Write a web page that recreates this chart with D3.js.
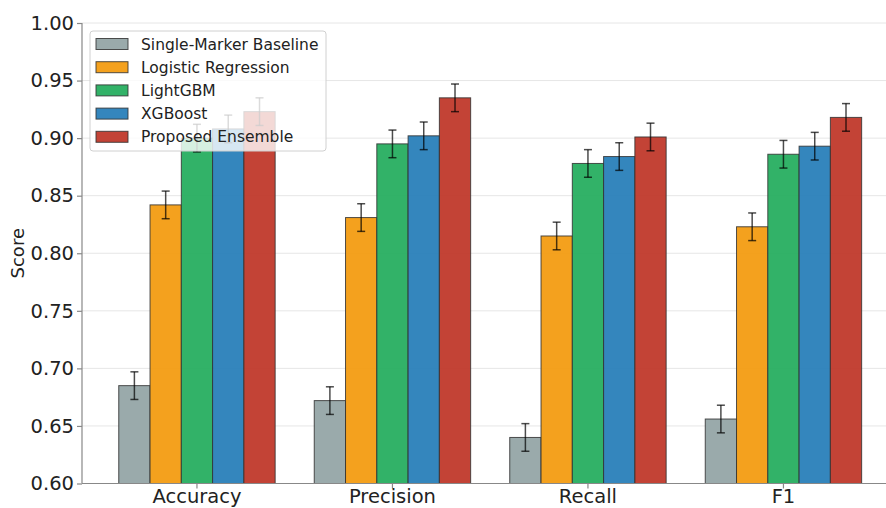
<!DOCTYPE html>
<html>
<head>
<meta charset="utf-8">
<script src="https://cdn.jsdelivr.net/npm/d3@7"></script>
<style>
  html, body { margin: 0; padding: 0; background: #fff; }
  svg { display: block; font-family: "DejaVu Sans", sans-serif; }
</style>
</head>
<body>
<svg id="chart" width="886" height="508"></svg>
<script>
// Metric categories along the x axis
const metrics = ["Accuracy", "Precision", "Recall", "F1"];

// Model names (legend order)
const models = ["Single-Marker Baseline", "Logistic Regression", "LightGBM", "XGBoost", "Proposed Ensemble"];
const modelColors = ["#95a5a6", "#f39c12", "#27ae60", "#2980b9", "#c0392b"];

// Scores per model, in metric order
const baselineScores = [0.685, 0.672, 0.640, 0.656];
const logisticScores = [0.842, 0.831, 0.815, 0.823];
const lightgbmScores = [0.900, 0.895, 0.878, 0.886];
const xgboostScores  = [0.908, 0.902, 0.884, 0.893];
const ensembleScores = [0.923, 0.935, 0.901, 0.918];

// Standard deviation shown as error bars
const baselineErr = [0.012, 0.012, 0.012, 0.012];
const logisticErr = [0.012, 0.012, 0.012, 0.012];
const lightgbmErr = [0.012, 0.012, 0.012, 0.012];
const xgboostErr  = [0.012, 0.012, 0.012, 0.012];
const ensembleErr = [0.012, 0.012, 0.012, 0.012];

const yTicks = [0.60, 0.65, 0.70, 0.75, 0.80, 0.85, 0.90, 0.95, 1.00];

const allScores = [baselineScores, logisticScores, lightgbmScores, xgboostScores, ensembleScores];
const allErr = [baselineErr, logisticErr, lightgbmErr, xgboostErr, ensembleErr];

const rows = [];
metrics.forEach((m, i) => {
  models.forEach((mod, j) => {
    rows.push({ metric: m, model: mod, value: allScores[j][i], err: allErr[j][i], color: modelColors[j] });
  });
});

const svg = d3.select("#chart");
const plotLeft = 82, plotTop = 23, plotBottom = 483.5, plotRight = 898.4;

const x = d3.scaleBand().domain(metrics).range([plotLeft, plotRight])
  .paddingInner(0.2).paddingOuter(0.188);
const xInner = d3.scaleBand().domain(models).range([0, x.bandwidth()]);
const y = d3.scaleLinear().domain([0.60, 1.00]).range([plotBottom, plotTop]);

// Horizontal grid
svg.append("g").selectAll("line").data(yTicks).join("line")
  .attr("x1", plotLeft).attr("x2", 886)
  .attr("y1", d => y(d)).attr("y2", d => y(d))
  .attr("stroke", "#e6e6e6").attr("stroke-width", 1);

// Bars
svg.append("g").selectAll("rect").data(rows).join("rect")
  .attr("x", d => x(d.metric) + xInner(d.model))
  .attr("y", d => y(d.value))
  .attr("width", xInner.bandwidth())
  .attr("height", d => y(0.60) - y(d.value))
  .attr("fill", d => d.color)
  .attr("fill-opacity", 0.95)
  .attr("stroke", "#333")
  .attr("stroke-opacity", 0.85)
  .attr("stroke-width", 1);

// Error bars
const eb = svg.append("g").attr("stroke", "#000").attr("stroke-opacity", 0.7).attr("stroke-width", 1.5);
rows.forEach(d => {
  const cx = x(d.metric) + xInner(d.model) + xInner.bandwidth() / 2;
  const y1 = y(d.value + d.err), y0 = y(d.value - d.err);
  eb.append("line").attr("x1", cx).attr("x2", cx).attr("y1", y1).attr("y2", y0);
  eb.append("line").attr("x1", cx - 4).attr("x2", cx + 4).attr("y1", y1).attr("y2", y1);
  eb.append("line").attr("x1", cx - 4).attr("x2", cx + 4).attr("y1", y0).attr("y2", y0);
});

// Axes
const yAxis = svg.append("g").attr("transform", `translate(${plotLeft},0)`)
  .call(d3.axisLeft(y).tickValues(yTicks).tickFormat(d3.format(".2f")).tickSize(5).tickPadding(3));
const xAxis = svg.append("g").attr("transform", `translate(0,${plotBottom})`)
  .call(d3.axisBottom(x).tickSize(5).tickPadding(1));
[yAxis, xAxis].forEach(a => {
  a.select(".domain").attr("stroke", "#888").attr("stroke-width", 1.2);
  a.selectAll(".tick line").attr("stroke", "#888").attr("stroke-width", 1.2);
  a.selectAll(".tick text").attr("fill", "#222").style("font-size", "19.5px")
    .style("font-family", "DejaVu Sans, sans-serif");
});
yAxis.select(".domain").attr("d", `M0,${plotBottom}V${plotTop}`);
xAxis.select(".domain").attr("d", `M${plotLeft},0H${plotRight}`);

// Y axis title
svg.append("text")
  .attr("transform", `translate(24,${(plotTop + plotBottom) / 2}) rotate(-90)`)
  .attr("text-anchor", "middle")
  .style("font-size", "18px").attr("fill", "#222")
  .text("Score");

// Legend
const lg = svg.append("g").attr("transform", "translate(90,31)");
lg.append("rect").attr("width", 236).attr("height", 120).attr("rx", 3)
  .attr("fill", "#fff").attr("fill-opacity", 0.8)
  .attr("stroke", "#d0d0d0").attr("stroke-width", 1);
models.forEach((m, j) => {
  const cy = 13 + j * 23.2;
  lg.append("rect").attr("x", 6).attr("y", cy - 5.5).attr("width", 32).attr("height", 11)
    .attr("fill", modelColors[j]).attr("fill-opacity", 0.95)
    .attr("stroke", "#333").attr("stroke-opacity", 0.85).attr("stroke-width", 1);
  lg.append("text").attr("x", 51).attr("y", cy).attr("dy", "0.36em")
    .style("font-size", "15.5px").attr("fill", "#222").text(m);
});
</script>
</body>
</html>
